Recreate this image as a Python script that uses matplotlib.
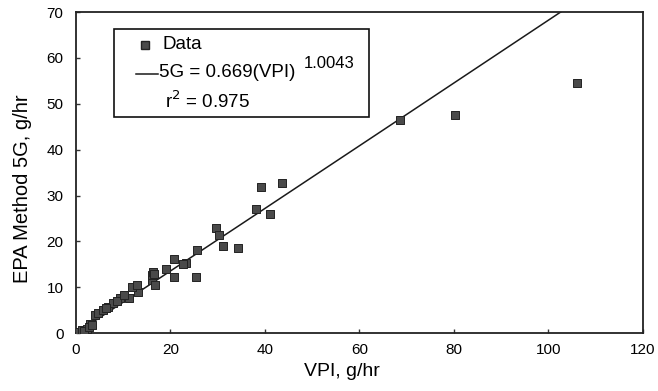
import numpy as np
import matplotlib
matplotlib.use("Agg")
import matplotlib.pyplot as plt
from matplotlib.patches import Rectangle

plt.rcParams['font.family'] = ['Liberation Sans', 'DejaVu Sans']

# data (VPI vs EPA Method 5G, g/hr)
vpi = [0.5, 1.2, 2.3, 3.0, 4.0, 4.7, 5.8, 6.8, 7.9, 9.3, 11.3, 13.2,
       11.8, 12.9, 16.0, 16.7, 16.0, 16.4, 16.6, 19.0, 20.8, 20.8, 23.3,
       22.7, 25.4, 25.6, 29.7, 30.2, 31.1, 34.2, 38.2, 39.2, 41.1, 43.7,
       68.5, 80.2, 106.0, 1.6, 2.7, 3.4, 8.6, 10.2, 6.3]
epa = [0.3, 0.7, 1.0, 2.1, 3.9, 4.4, 5.0, 5.7, 6.5, 7.6, 7.6, 9.0,
       10.1, 10.5, 11.6, 10.5, 12.7, 13.4, 12.9, 13.9, 16.1, 12.3, 15.2,
       15.0, 12.3, 18.1, 23.0, 21.4, 19.1, 18.5, 27.0, 31.9, 25.9, 32.8,
       46.4, 47.5, 54.6, 0.5, 1.4, 1.8, 6.9, 8.3, 5.4]

# power-law fit given in the legend
coef = 0.669
expo = 1.0043
r2 = 0.975

fig = plt.figure(figsize=(6.58, 3.91), dpi=100)
ax = fig.add_axes([0.1155, 0.148, 0.8615, 0.821])

xfit = np.linspace(0, 120, 400)
ax.plot(xfit, coef * xfit ** expo, color='#1a1a1a', lw=1.1, zorder=2)
ax.scatter(vpi, epa, marker='s', s=34, color='#4a4a4a',
           edgecolors='#222222', linewidths=0.7, zorder=3)

ax.set_xlim(0, 120)
ax.set_ylim(0, 70)
ax.set_xticks(np.arange(0, 121, 20))
ax.set_yticks(np.arange(0, 71, 10))
ax.tick_params(direction='in', length=3, width=1, labelsize=11, color='#333333')
ax.tick_params(axis='x', pad=7)
ax.tick_params(axis='y', pad=9)
for s in ax.spines.values():
    s.set_linewidth(1.3)
    s.set_color('#222222')

ax.set_xlabel('VPI, g/hr', fontsize=14)
ax.set_ylabel('EPA Method 5G, g/hr', fontsize=14.5)
ax.xaxis.set_label_coords(0.47, -0.121)
ax.xaxis.label.set_va('center')
ax.yaxis.set_label_coords(-0.095, 0.45)
ax.yaxis.label.set_va('center')

# legend box drawn by hand so the big superscript fits like the original
T = ax.transAxes
ax.add_patch(Rectangle((0.067, 0.673), 0.45, 0.274, transform=T, fill=False,
                       ec='#111111', lw=1.2, zorder=5))
ax.plot([0.122], [0.897], transform=T, ls='none', marker='s', ms=5.5,
        color='#4a4a4a', mec='#222222', zorder=6)
ax.text(0.153, 0.900, 'Data', transform=T, fontsize=13.5, va='center', zorder=6)
ax.plot([0.106, 0.145], [0.807, 0.807], transform=T, color='#1a1a1a', lw=1.1, zorder=6)
ax.text(0.146, 0.813, '5G = %.3f(VPI)' % coef, transform=T, fontsize=13.5,
        va='center', zorder=6)
ax.text(0.402, 0.840, '%.4f' % expo, transform=T, fontsize=12, va='center', zorder=6)
ax.text(0.157, 0.722, 'r$^{2}$ = %.3f' % r2, transform=T, fontsize=13.5,
        va='center', zorder=6)

fig.savefig('out.png', dpi=100)
